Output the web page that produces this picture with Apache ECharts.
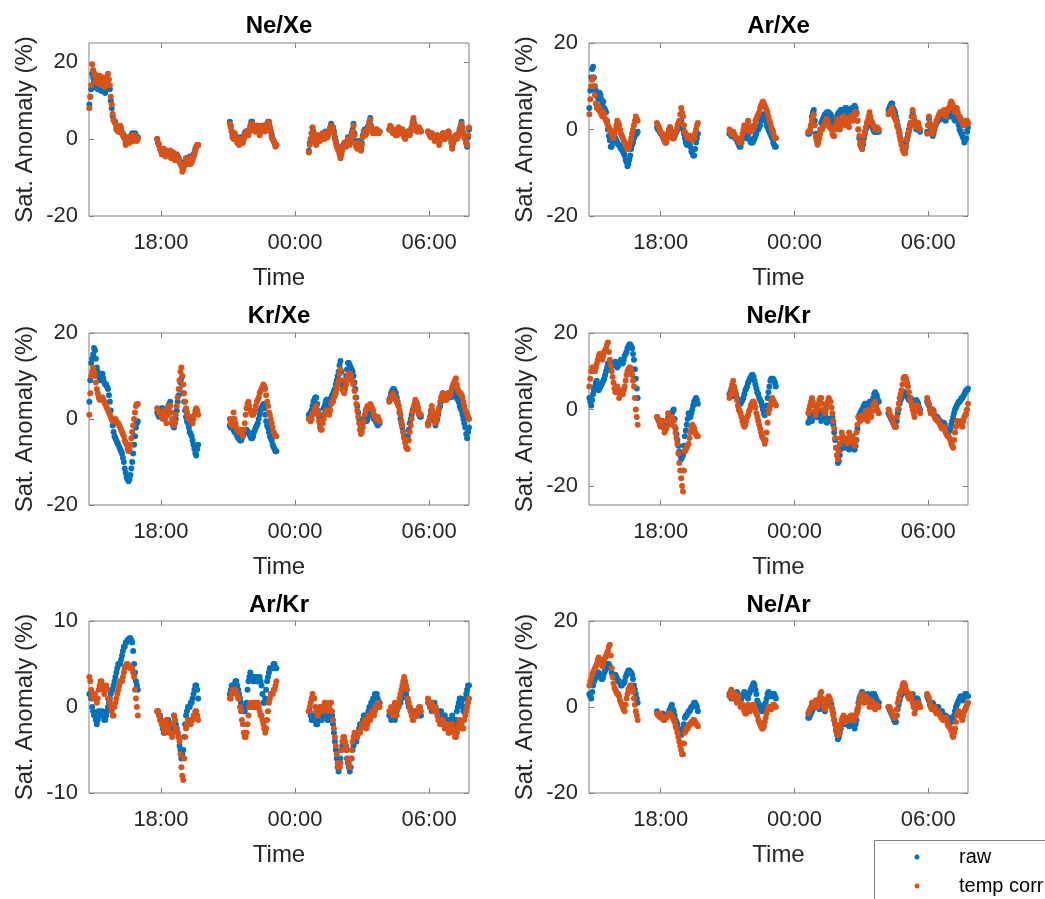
<!DOCTYPE html>
<html>
<head>
<meta charset="utf-8">
<title>Sat. Anomaly</title>
<script src="https://cdn.jsdelivr.net/npm/echarts@6.0.0/dist/echarts.min.js"></script>
<style>
  html, body { margin: 0; padding: 0; background: #fff; }
  #chart { width: 1045px; height: 899px; }
</style>
</head>
<body>
<div id="chart"></div>
<script>
// sample times, one every 2.5 min, in six measurement blocks
const times = [
  "14:48:00","14:50:30","14:53:00","14:55:30","14:58:00","15:00:30","15:03:00","15:05:30","15:08:00","15:10:30","15:13:00","15:15:30","15:18:00","15:20:30","15:23:00","15:25:30","15:28:00","15:30:30","15:33:00","15:35:30","15:38:00","15:40:30","15:43:00","15:45:30","15:48:00","15:50:30","15:53:00","15:55:30","15:58:00","16:00:30","16:03:00","16:05:30","16:08:00","16:10:30","16:13:00","16:15:30","16:18:00","16:20:30","16:23:00","16:25:30","16:28:00","16:30:30","16:33:00","16:35:30","16:38:00","16:40:30","16:43:00","16:45:30","16:48:00","16:50:30","16:53:00","16:55:30","16:58:00",
  "17:50:00","17:52:30","17:55:00","17:57:30","18:00:00","18:02:30","18:05:00","18:07:30","18:10:00","18:12:30","18:15:00","18:17:30","18:20:00","18:22:30","18:25:00","18:27:30","18:30:00","18:32:30","18:35:00","18:37:30","18:40:00","18:42:30","18:45:00","18:47:30","18:50:00","18:52:30","18:55:00","18:57:30","19:00:00","19:02:30","19:05:00","19:07:30","19:10:00","19:12:30","19:15:00","19:17:30","19:20:00","19:22:30","19:25:00","19:27:30","19:30:00","19:32:30","19:35:00","19:37:30","19:40:00",
  "21:05:00","21:07:30","21:10:00","21:12:30","21:15:00","21:17:30","21:20:00","21:22:30","21:25:00","21:27:30","21:30:00","21:32:30","21:35:00","21:37:30","21:40:00","21:42:30","21:45:00","21:47:30","21:50:00","21:52:30","21:55:00","21:57:30","22:00:00","22:02:30","22:05:00","22:07:30","22:10:00","22:12:30","22:15:00","22:17:30","22:20:00","22:22:30","22:25:00","22:27:30","22:30:00","22:32:30","22:35:00","22:37:30","22:40:00","22:42:30","22:45:00","22:47:30","22:50:00","22:52:30","22:55:00","22:57:30","23:00:00","23:02:30","23:05:00","23:07:30","23:10:00",
  "00:37:00","00:39:30","00:42:00","00:44:30","00:47:00","00:49:30","00:52:00","00:54:30","00:57:00","00:59:30","01:02:00","01:04:30","01:07:00","01:09:30","01:12:00","01:14:30","01:17:00","01:19:30","01:22:00","01:24:30","01:27:00","01:29:30","01:32:00","01:34:30","01:37:00","01:39:30","01:42:00","01:44:30","01:47:00","01:49:30","01:52:00","01:54:30","01:57:00","01:59:30","02:02:00","02:04:30","02:07:00","02:09:30","02:12:00","02:14:30","02:17:00","02:19:30","02:22:00","02:24:30","02:27:00","02:29:30","02:32:00","02:34:30","02:37:00","02:39:30","02:42:00","02:44:30","02:47:00","02:49:30","02:52:00","02:54:30","02:57:00","02:59:30","03:02:00","03:04:30","03:07:00","03:09:30","03:12:00","03:14:30","03:17:00","03:19:30","03:22:00","03:24:30","03:27:00","03:29:30","03:32:00","03:34:30","03:37:00","03:39:30","03:42:00","03:44:30","03:47:00",
  "04:13:00","04:15:30","04:18:00","04:20:30","04:23:00","04:25:30","04:28:00","04:30:30","04:33:00","04:35:30","04:38:00","04:40:30","04:43:00","04:45:30","04:48:00","04:50:30","04:53:00","04:55:30","04:58:00","05:00:30","05:03:00","05:05:30","05:08:00","05:10:30","05:13:00","05:15:30","05:18:00","05:20:30","05:23:00","05:25:30","05:28:00","05:30:30","05:33:00","05:35:30","05:38:00",
  "05:57:00","05:59:30","06:02:00","06:04:30","06:07:00","06:09:30","06:12:00","06:14:30","06:17:00","06:19:30","06:22:00","06:24:30","06:27:00","06:29:30","06:32:00","06:34:30","06:37:00","06:39:30","06:42:00","06:44:30","06:47:00","06:49:30","06:52:00","06:54:30","06:57:00","06:59:30","07:02:00","07:04:30","07:07:00","07:09:30","07:12:00","07:14:30","07:17:00","07:19:30","07:22:00","07:24:30","07:27:00","07:29:30","07:32:00","07:34:30","07:37:00","07:39:30","07:42:00","07:44:30","07:47:00"
];

// Ne/Xe
const neXeRaw = [
  9, 11, 13, 17, 16, 15, 15, 13.5, 14, 13, 13, 14, 13.5, 12.5, 13, 13.5, 12.5, 12, 13, 14, 15.5, 14, 13, 10, 8, 6, 5, 4.5, 4.5, 3, 3, 2, 2, 3, 2.5, 1.5, 1.5, 1, 0.5, -1, -0.5, 0, 0.5, -0.5, 0, 1, 1.5, 0, 0.5, 1.5, 1, 0, 0.5,
  0, -1, -1.5, -2.5, -3, -3.5, -3, -2.5, -3, -4, -3.5, -3, -3.5, -3.5, -3, -4.5, -4, -3.5, -4, -5, -4.5, -4, -4.5, -5, -5.5, -6, -6.5, -7.5, -7.5, -6.5, -6, -5, -5, -5.5, -5, -4.5, -5.5, -5.5, -5, -4, -3.5, -2.5, -2, -1.5, -1.5,
  4.5, 3.5, 2, 1, 0.5, 1.5, 1, 0.5, -0.5, 0, -1, 0, 0.5, -0.5, -0.5, 0.5, 1.5, 2, 2, 1.5, 1.5, 2.5, 3.5, 4.5, 4.5, 3, 3.5, 2.5, 2.5, 3.5, 3.5, 2.5, 1.5, 2.5, 3, 3.5, 3.5, 3, 2.5, 3.5, 4, 4.5, 4.5, 3, 2, 1, 0, -0.5, -1, -1.5, -1.5,
  -3, -1, 0, 1.5, 3, 2, 0.5, -0.5, -1, 0, 1, 0.5, 0, 0.5, 1, 1.5, 1, 0.5, 2, 1.5, 1, 1.5, 2, 3, 4, 2.5, 3, 2, 0.5, -0.5, -1.5, -2, -2.5, -3.5, -4.5, -3.5, -2.5, -1.5, -1, -1, -1.5, -0.5, 0.5, 0, -1, 0.5, 1.5, 2.5, 4, 1.5, -0.5, -1.5, -2, -1, -0.5, -1.5, -2.5, -1, 1, 2, 2.5, 1.5, 2, 3, 3.5, 4.5, 5.5, 3.5, 2.5, 2, 2.5, 2, 2, 2.5, 2, 1.5, 2,
  2.5, 3, 3, 2.5, 2, 2, 2, 1.5, 1, 2, 3, 2, 1.5, 2, 2.5, 2, 1, 0.5, 1, 1.5, 2, 2, 1.5, 2, 3, 4, 5, 4, 3, 2.5, 2, 2.5, 3, 2.5, 2,
  2, 1.5, 1, 1, 1.5, 1, 0.5, 0, 0.5, 0.5, 1, 0, -1, 0, 0.5, 1, 1.5, 0.5, 0, 0.5, 1, 1.5, 2, 1, 0.5, -0.5, -2, -1, 0, 0.5, 1, 0.5, 1, 1.5, 2.5, 3.5, 4.5, 3, 1.5, 0.5, 0, -1, -2, 0.5, 2.5
];
const neXeCorr = [
  8, 11, 14, 19.5, 18, 16.5, 17, 15, 16, 14.5, 15, 16.5, 16, 14, 15, 16, 14, 13.5, 15, 16, 17, 15.5, 14, 11, 9, 6.5, 5, 4.5, 4, 2.5, 3, 2, 2, 3.5, 3, 1.5, 1, 0.5, 0, -1.5, -1, 0.5, 0, -1, -0.5, 0.5, 1, -0.5, 0, 1, 0.5, -0.5, 0,
  0, -1, -1.5, -2.5, -3, -4, -3.5, -2.5, -3, -4.5, -4, -3, -3.5, -4, -3, -5, -4.5, -3.5, -4, -5.5, -5, -4, -4.5, -5.5, -6, -6.5, -7, -8.5, -8, -7, -6.5, -5, -5.5, -6.5, -6, -5, -6.5, -6, -5.5, -4.5, -4, -3, -2, -1.5, -1.5,
  4, 3, 2, 0.5, 0, 1.5, 1, 0, -1, -0.5, -1.5, -0.5, 0, -1, -1, 0, 1, 1.5, 2, 1, 1, 2, 3, 4, 4, 2.5, 3, 2, 2, 3.5, 3, 2, 1, 2, 2.5, 3.5, 3, 2.5, 2, 3, 3.5, 4.5, 4, 3, 2, 0.5, 0, -0.5, -1, -2, -1.5,
  -3.5, -1.5, 0, 1.5, 3, 1.5, 0, -1, -1.5, 0, 1, 0, -0.5, 0, 0.5, 1.5, 1, 0, 1.5, 1, 0.5, 1, 2, 3, 3.5, 2, 3, 1.5, 0, -1, -2, -2.5, -3, -4, -5, -4, -3, -2, -1, -1.5, -2, -1, 0, -0.5, -1.5, 0, 1, 2, 3.5, 1, -1, -2, -2.5, -1.5, -1, -2, -3, -1.5, 0.5, 1.5, 2, 1, 1.5, 2.5, 3, 4, 5, 3, 2, 1.5, 2.5, 2, 1.5, 2.5, 2, 1.5, 2,
  2.5, 3.5, 3, 2, 1.5, 2.5, 2, 1, 1, 2, 3, 2, 1.5, 2, 2.5, 1.5, 0.5, 0, 1, 1.5, 2, 1.5, 1, 2, 3, 4.5, 5.5, 4, 3, 2.5, 2, 2.5, 3, 2.5, 2,
  2, 1.5, 1, 0.5, 1.5, 1, 0.5, -0.5, 0, 0.5, 1, -0.5, -1.5, -0.5, 0.5, 1, 1.5, 0.5, 0, 0.5, 1, 1.5, 2, 1, 0.5, -1, -2.5, -1, 0, 0.5, 1, 0, 0.5, 1.5, 2.5, 3, 4, 2.5, 1.5, 0.5, 0, -1, -1.5, 1, 3
];

// Ar/Xe
const arXeRaw = [
  5, 9, 12, 14, 14.5, 12, 10, 9, 8, 7.5, 7, 8.5, 8, 7, 6, 6.5, 5, 4.5, 4, 2, 0, -1.5, -2.5, -4, -4, -3, -3, -2.5, -2, -2.5, -3, -3.5, -3.5, -4, -4.5, -4, -5, -5.5, -6, -7, -7.5, -8.5, -8, -7, -6, -4.5, -3.5, -3, -2, -1.5, -1, -1, -0.5,
  0.5, 0, 0, -0.5, -1, -1, -1.5, -2, -2.5, -3, -3, -2, -1, 0, 0.5, -0.5, -1.5, -2, -2, -1.5, -1, -0.5, 0, 0.5, 1, 1.5, 2, 1, 0, -1, -2, -3, -3.5, -3.5, -3, -3.5, -4, -5, -5.5, -6, -6, -4.5, -3, -2, -1,
  -1, -1, -1.5, -1.5, -1, -1.5, -2, -2, -2.5, -3, -3.5, -4, -4, -3, -2, -1.5, -1, -1.5, -2, -2, -1.5, -2, -2.5, -3, -3, -3, -2.5, -2, -1.5, -1, 0, 0, 0.5, 1, 2, 3, 3.5, 3, 2.5, 2, 1, 0.5, 0, -0.5, -1, -1.5, -2, -3, -3.5, -4, -4,
  -1, -1, -0.5, 1, 3, 4, 4.5, 2, -1, -2, -3, -2, -1, 0, 1.5, 2, 2.5, 3, 3.5, 3.5, 4, 4, 4, 3.5, 3.5, 3, 2, 1, 0, 1, 2, 3, 3.5, 4, 4, 4.5, 4.5, 4, 4, 4.5, 5, 5, 4.5, 3.5, 3, 4, 4.5, 5, 5, 5, 5.5, 5, 4, 2, 0, -2, -3.5, -4, -4.5, -3.5, -2, -1, 0, 0.5, 1, 1.5, 2, 1.5, 1, 0.5, 0, -0.5, -0.5, -0.5, -0.5, 0, -0.5,
  4.5, 5, 5.5, 6, 6, 5, 4.5, 4, 3, 2, 1, 0, -1, -2, -3, -3.5, -4, -4.5, -4.5, -3, -2, -1, 0, 1, 1.5, 3, 4, 3, 2, 1, 0, 0.5, 1, 0, -0.5,
  -0.5, 1, 2.5, 1, 0, -1, -1.5, -1, 0, 1, 1.5, 2, 2, 2.5, 3, 2.5, 2.5, 3, 3, 2.5, 2, 3, 3.5, 3, 3, 3.5, 4, 3.5, 3, 2.5, 2, 2.5, 3, 2, 1, 0, -0.5, -1, -1.5, -2, -3, -2.5, -2, -0.5, 0.5
];
const arXeCorr = [
  3.5, 7, 10, 11.5, 12, 10, 8, 6, 5, 5.5, 4.5, 5, 4, 3.5, 3, 4, 3.5, 2.5, 2, 1.5, 1, 0.5, 0, -0.5, -1, -1.5, -2, -1, 0, 1, 2, 1.5, 1, 0, -1, -1.5, -2, -2.5, -3, -3.5, -4, -4.5, -4.5, -4, -3, -2, -1, 0, 1, 2, 3, 2.5, 2,
  1.5, 1, 0.5, 0, -0.5, -1, -1, -2, -2.5, -3, -3, -2, -1, 0, 0.5, -0.5, -1.5, -2, -2, -1, -0.5, 0, 1, 1.5, 2, 3.5, 5, 4, 3, 1, -0.5, -1, -1.5, -2, -2, -1.5, -1.5, -2, -2.5, -2, -2, -1, 0, 1, 1.5,
  0, -0.5, -1, -1, -0.5, -1, -1.5, -2, -2, -2, -2.5, -3, -3, -2, -1, 0, 1, 0.5, 0, 1, 2, 1, -0.5, -0.5, 0, 0, 0.5, 1, 2, 2.5, 3, 3.5, 4, 5, 5.5, 6, 6.5, 6, 5.5, 5, 4.5, 4, 3, 2, 1.5, 0.5, 0, -0.5, -1.5, -2, -2,
  -0.5, -0.5, 0, 1, 2, 3, 3.5, 1, -1.5, -2.5, -3.5, -3, -2, -1, 0, 0, 0.5, 1, 1.5, 2, 2.5, 2, 1, 0.5, 0.5, 0, -1, -1.5, -1.5, 0, 1, 2, 2.5, 1, 0, 1, 2, 2.5, 3, 2, 1, 2, 2.5, 1.5, 0.5, 2, 3, 2.5, 2, 3, 4, 4, 3.5, 2, 0, -1.5, -3, -4, -4.5, -3, -1.5, -0.5, 0.5, 1.5, 2, 3, 4, 3, 2, 1.5, 1, 0.5, 0, 0, 0.5, 0, 0,
  3.5, 4, 4, 4.5, 5, 4, 3, 2.5, 2, 1, 0.5, -0.5, -1.5, -2.5, -3.5, -4.5, -5, -5.5, -5.5, -4, -2.5, -1.5, -0.5, 0.5, 1.5, 3, 4.5, 3, 2, 1, 0.5, 1, 1.5, 0.5, 0,
  -1, 1, 3, 1.5, 0.5, -0.5, -1, 0, 0.5, 1, 2, 2.5, 3, 3.5, 4, 4, 3.5, 4, 4.5, 4, 3, 4, 4.5, 5, 5, 6, 6.5, 6, 5.5, 4.5, 4, 4.5, 5, 4, 3, 3, 2.5, 2, 1.5, 1, 1, 1.5, 2, 2, 1.5
];

// Kr/Xe
const krXeRaw = [
  4, 9, 13, 14, 15, 16.5, 16, 14, 12, 11, 10, 9.5, 9, 10, 10.5, 9.5, 8.5, 8, 8, 7.5, 7, 5.5, 4, 2, 0, -1.5, -3, -4, -4.5, -5, -5.5, -6, -6.5, -7, -7.5, -8, -9, -10, -11.5, -12.5, -13.5, -14, -14.5, -14, -13, -11.5, -10, -8, -6, -4, -2, -1, -0.5,
  1.5, 1, 0.5, 1, 2, 2.5, 2.5, 1, 0, 0.5, 1, 2, 3, 3.5, 4, 1.5, -1, -1.5, -2, -1, 0, 2, 4, 5.5, 7, 8.5, 9.5, 8, 6, 4, 2, 0.5, -0.5, -1, -2, -3, -3.5, -4, -5, -6, -7, -8, -8.5, -7, -6,
  -1.5, -2, -2, -2, -2.5, -3, -3, -3.5, -4, -4.5, -4.5, -5, -5, -4.5, -4, -3.5, -3, -2.5, -2.5, -3, -3, -3.5, -4, -4.5, -4.5, -4, -3, -2.5, -2, -1.5, -1, 0, 1, 2, 2.5, 3, 3.5, 2.5, 1, -0.5, -1.5, -2, -3, -4, -4.5, -5, -6, -6.5, -7, -7.5, -7.5,
  1, 1, 1.5, 2, 3, 4, 4.5, 5, 5, 3.5, 2, 0.5, -1, -0.5, 0, 1, 2.5, 3, 4, 4.5, 4.5, 4, 3, 4, 5, 5.5, 6, 6.5, 7, 8, 9, 10, 11, 12.5, 13.5, 11, 8, 7.5, 7, 8.5, 10, 11.5, 13, 13, 12.5, 12, 11.5, 11, 10, 8.5, 7, 5, 3, 1.5, 0, -1, -2, -1.5, -1, 0, 0.5, 0, -0.5, 0, 1, 1.5, 2, 1.5, 1, 0.5, 0, 0, -0.5, -1, -1.5, -1, -1,
  4.5, 5, 6, 6.5, 7, 7, 6.5, 6, 5, 4, 3, 1.5, 0, -1, -2, -3, -4, -4.5, -5, -4.5, -4, -2.5, -1, 0, 1, 2, 2.5, 3, 4, 3.5, 3, 2, 1, 0.5, 0.5,
  -1, -0.5, 0, 1, 2, 1.5, 1, -0.5, -1.5, -0.5, 0, 1, 2.5, 3, 4, 5, 6, 5, 4.5, 5, 5, 5.5, 6, 5.5, 5, 6, 7, 6.5, 6, 5.5, 5, 5, 4.5, 4, 3, 2.5, 2, 1, 0, -1, -2, -3.5, -4.5, -3, -2
];
const krXeCorr = [
  1, 6, 10, 11, 12, 11, 10, 8.5, 7, 6, 5, 4.5, 4.5, 5, 5, 4.5, 4, 3.5, 3, 2.5, 2, 1.5, 1, 0.5, 0, -0.5, -0.5, -0.5, 0, -0.5, -1, -1, -1.5, -2, -2.5, -3, -3.5, -4, -5, -5.5, -6, -7, -7.5, -7, -6, -4.5, -3, -1.5, 0, 1.5, 3, 3.5, 3.5,
  2.5, 2, 1.5, 1.5, 1, 0.5, 0, 1, 2, 0.5, -1, 1, 2.5, 3, 3, 1.5, 0, -1, -1.5, -0.5, 1, 3, 5, 7, 9, 11, 12, 10, 8, 6, 4, 2.5, 1.5, 0.5, 0, 0, 0.5, -0.5, -1, 0, 1, 2, 2.5, 2, 1,
  0, -1, -1.5, 0, 1.5, 0, -1, -2, -2.5, -3, -3, -3, -2.5, -3.5, -4, -2.5, -1, 1, 2.5, 3.5, 4, 3, 2, 1.5, 1, 1, 1.5, 2, 3, 4, 4.5, 5, 6, 6.5, 7, 7.5, 8, 7.5, 7, 5.5, 4, 3, 1.5, 1, 0, -1, -2, -3, -3.5, -4, -4,
  0, 0, -0.5, 0, 1, 1.5, 2, 2.5, 3, 2, 1, -0.5, -2, -2.5, -2.5, -1, 0, 1, 1.5, 2, 2, 1.5, 1, 2, 3.5, 4, 4, 5, 5.5, 6, 7, 8, 9, 10.5, 11.5, 9, 7, 6.5, 6, 7, 8, 9, 10, 10.5, 10.5, 10, 9, 8.5, 8, 6.5, 5, 3.5, 2, 0.5, -1, -2.5, -3.5, -3, -2, -0.5, 1, 2, 2.5, 3, 3, 3, 3.5, 3, 2.5, 2, 1, 0.5, 0, 0, 0.5, 0, -0.5,
  4, 4.5, 5, 5.5, 6, 5.5, 5, 4.5, 4, 3.5, 3, 2, 1, -0.5, -1.5, -3, -4.5, -5.5, -6.5, -7, -7, -5, -3, -1.5, 0, 1.5, 2.5, 3.5, 4.5, 4, 3.5, 2.5, 1.5, 1, 1,
  -1.5, -0.5, 0.5, 2, 3, 2, 1, 0, -1, -0.5, 0.5, 1.5, 2.5, 4, 5, 5.5, 6, 5.5, 5, 4.5, 4.5, 5, 6, 6, 5.5, 6.5, 7.5, 8, 8.5, 9, 9.5, 8, 7, 6.5, 6, 6, 5.5, 5, 4, 3, 2, 1.5, 1, 0.5, 0
];

// Ne/Kr
const neKrRaw = [
  3, 2, 1, 2.5, 4, 5, 6, 7, 7.5, 6, 5, 5.5, 6, 6.5, 7, 7.5, 8, 9, 10, 11, 12, 11.5, 11, 11.5, 12, 12, 11.5, 12, 12.5, 12, 11, 11.5, 12, 12.5, 13, 12.5, 12, 13, 14, 14.5, 15, 16, 16.5, 17, 17, 16.5, 16, 14.5, 13, 10.5, 8, 5.5, 3,
  -2, -2.5, -3, -3.5, -4, -3.5, -3, -4, -5, -4.5, -4, -3, -2, -2.5, -3.5, -2, -1, -0.5, 0, -2.5, -5, -6.5, -8, -9.5, -11, -12, -13, -12.5, -12, -9.5, -7, -5.5, -4, -2.5, -1, -1.5, -2, -1, 0, 1, 2, 2.5, 3, 2.5, 1.5,
  4, 4.5, 5, 4, 3.5, 4, 4.5, 4, 3, 2.5, 2, 2, 1.5, 2, 2.5, 3, 4, 5, 5.5, 6, 7, 7.5, 8, 8.5, 9, 9, 8.5, 7.5, 6.5, 5.5, 4.5, 4, 3, 2.5, 2, 1, 0, -1, -1.5, -0.5, 1, 3, 4.5, 6, 7.5, 8, 8, 8, 7.5, 7, 6,
  -3.5, -3, -2, -2.5, -3, -2, -1, -1, -1.5, -2, -2, -1, -0.5, -2, -3, -2.5, -2, -1.5, -1, -2, -3.5, -3, -2.5, -3, -3, -2.5, -2, -4, -6, -8, -10, -12, -14, -13.5, -12, -10.5, -9, -8.5, -8.5, -9, -10, -9.5, -9, -10, -10.5, -10, -9.5, -10, -10, -10.5, -10.5, -9.5, -8, -5, -2, -1.5, -1, -0.5, 0, 0.5, 1, 1.5, 1.5, 1, 1, 1.5, 2, 2, 1.5, 2, 3, 4, 4.5, 4, 3.5, 2.5, 2,
  -1, -1.5, -2, -2.5, -3, -3.5, -4, -4.5, -4.5, -3, -1, 0, 1.5, 2.5, 3, 3.5, 4, 4.5, 4.5, 4, 3.5, 3, 2.5, 3, 3, 2.5, 2, 1.5, 1, 2, 2.5, 2, 1.5, 0.5, 0,
  2, 1.5, 1, 0, -1, -0.5, 0, -0.5, -1.5, -2, -2, -2, -2.5, -3, -3, -3.5, -4, -4, -3.5, -4, -5, -5.5, -6, -6, -5.5, -5, -4, -3, -2, -1, 0, 0.5, 1, 1.5, 2, 2, 2.5, 3, 3, 3.5, 4, 4.5, 5, 5, 5.5
];
const neKrCorr = [
  6, 8, 10, 11, 11, 10.5, 10, 11, 12, 13, 14, 14.5, 14.5, 14, 13, 14, 15, 15.5, 16, 17, 17.5, 15, 13, 11.5, 10, 8.5, 7, 5.5, 4.5, 5, 6, 4.5, 3, 4, 5, 4.5, 4, 5, 6, 7.5, 9, 10, 10.5, 11, 11, 10, 9, 7.5, 6, 3, 0, -2, -4,
  -2, -2.5, -3, -4, -4.5, -4, -3, -4.5, -6, -5.5, -5, -3, -1, -2.5, -4, -3, -2, -2.5, -3, -4.5, -6, -7.5, -9, -11.5, -14, -16, -18, -20, -21.5, -16, -11, -10.5, -10, -9.5, -9, -7.5, -6, -5, -4, -4.5, -5, -6, -6.5, -7, -7,
  3, 4, 5.5, 6.5, 7.5, 6, 5, 4, 2.5, 1, 0, -0.5, -1, -2, -3, -4, -4.5, -4, -3, -2, -1.5, -0.5, 0, 1, 1.5, 2, 2, 1.5, 0.5, -1, -2, -3, -4, -5, -6, -7, -7.5, -8, -9, -8, -6, -3.5, -1, 0, 1, 2, 3, 2.5, 2, 1.5, 1,
  -1, 0, 1, 2, 3, 2, 1, -0.5, -1.5, -0.5, 0.5, 1.5, 2.5, 3, 3, 1.5, 0, -0.5, -1, 0, 1, 2, 3, 2.5, 2, 0.5, -1, -3, -5, -7.5, -10, -12, -13, -11, -9, -7.5, -6, -7, -7.5, -8, -8, -8.5, -9, -7.5, -6, -7, -8.5, -8, -7, -8, -9.5, -8, -6, -4, -2, -2.5, -3, -2, -1.5, -2, -2.5, -1.5, -0.5, -2, -3, -1.5, 0, -1, -2, -0.5, 1, 1.5, 2, 1, 0, -0.5, -1,
  0, -0.5, -1.5, -2, -2.5, -3.5, -4, -4.5, -4.5, -2, 0, 1.5, 3, 4, 5, 6.5, 8, 8.5, 8.5, 8, 7, 6, 4.5, 3, 2, 1, 0, -1, -2, -0.5, 1, 1, 0.5, 0, -1,
  3, 2, 1.5, 0, -1, -0.5, 0, -1, -2, -2.5, -2.5, -3, -3, -3.5, -4, -4.5, -5, -5, -4.5, -5, -6, -6.5, -7, -7, -7.5, -8, -9, -9.5, -10, -8, -6, -4.5, -3, -3.5, -4, -3.5, -3, -4, -4.5, -3, -2, -1.5, -1, 0, 1.5
];

// Ar/Kr
const arKrRaw = [
  1.5, 1.5, 1, 0, -0.5, -1, -1, -1.5, -2, -1.5, -0.5, -0.5, -1, -1, -0.5, -1, -1.5, -1.5, -1, -0.5, 0, 0.5, 1, 1.5, 2, 2, 2.5, 3, 3.5, 4, 4.5, 5, 5, 5, 5.5, 6, 6.5, 7, 7, 7.5, 7.5, 7.8, 7.8, 8, 8, 7.8, 7.5, 6.5, 5, 4, 3, 2.5, 2,
  -0.5, -0.5, -1, -1, -1.5, -2, -2.5, -3, -3, -2.5, -2, -1.5, -1.5, -2, -2.5, -3, -3, -2, -1, -1.5, -2, -2.5, -3, -3.5, -4.5, -5, -6, -5.5, -5, -3.5, -2, -1, -0.5, 0, 0, 0, 0.5, 0.5, 1, 1.5, 2, 2.5, 2.5, 2, 1,
  1.5, 2, 2.5, 2.5, 2, 2.5, 3, 3, 2.5, 2, 1.5, 1, 0.5, 0, 0, -0.5, -0.5, 0, 0.5, 2, 3, 3.5, 4, 3.5, 3.5, 3, 3, 3.5, 3.5, 3, 3, 3.5, 3.5, 3, 2.5, 1.5, 0.5, 0.5, 1, 2, 3, 3.5, 4, 4.5, 4.5, 4.5, 4.5, 5, 5, 4.5, 4.5,
  -0.5, -0.5, -1, -1.5, -1.5, -1, -1, -1.5, -2, -2, -1.5, -1, -1, -1.5, -1.5, -1, -1, -0.5, -0.5, -1, -1.5, -1.5, -1, -0.5, -0.5, -1, -2, -3, -4, -5, -6, -7, -7.5, -7, -6, -5, -4.5, -4, -4, -4.5, -5, -6, -6.5, -7, -7.5, -7, -6, -5, -4.5, -4, -4, -4, -3.5, -3, -2.5, -2, -2, -2, -1.5, -1, -1, -1, -1.5, -1, -0.5, 0, 0, 0.5, 0.5, 1, 1, 1.5, 1.5, 1.5, 1, 0.5, 0.5,
  -1, -1, -1.5, -1, -1, -1, -1.5, -1, -0.5, 0, 0, 0.5, 0.5, 1, 1.5, 2, 2, 2, 1.5, 1, 0.5, 0, 0, -0.5, -0.5, -1, -1, -0.5, -0.5, -1, -1, -0.5, -0.5, -1, -1,
  0.5, 0.5, 0, 0, -0.5, 0, 0.5, 0.5, 0, -0.5, -0.5, -1, -1, -0.5, -0.5, -1, -1.5, -1, -1, -1.5, -1.5, -2, -2, -1.5, -1.5, -1.5, -1, -1.5, -2, -2, -1.5, -0.5, 0, 0.5, 1, 1, 0.5, 0, -0.5, 0, 1, 1.5, 2, 2.5, 2.5
];
const arKrCorr = [
  3.5, 3, 2, 1.5, 1, 1.5, 1.5, 1, 0.5, 1, 2, 2.5, 3, 3, 2.5, 2, 1.5, 2, 2.5, 2, 1, 1, 0.5, 0, -0.5, -1, -1, 0, 0.5, 1, 1.5, 2, 2.5, 3, 3, 3, 3.5, 4, 4.5, 4.8, 5, 5, 4.8, 4.7, 4.5, 4.5, 4.5, 4, 3.5, 2, 1, 0, -1,
  -0.5, -0.5, -1, -1.5, -1.5, -2, -2, -2.5, -3, -2, -1.5, -2, -2.5, -3, -3, -3, -3.5, -2, -1, -1.5, -2.5, -3, -3, -3.5, -4, -5.5, -7, -8, -8.5, -6, -3.5, -2.5, -2, -1.5, -1.5, -2, -2, -1.5, -1.5, -1, -1, -0.5, -0.5, -1, -1.5,
  1, 1, 1.5, 2, 2, 2, 2, 1.5, 1.5, 1, 1, 0, -0.5, -1.5, -2, -3, -3.5, -3.5, -3, -2, -1, 0, 0.5, 0, 0, 0.5, 0.5, 0, 0, 0.5, 0.5, 0, -0.5, -1, -1, -1.5, -2, -2.5, -3, -2.5, -1.5, -0.5, 0.5, 1, 1.5, 1.5, 1.5, 2, 2, 2.5, 3,
  -0.5, 0, 0.5, 1, 1.5, 1, 1, 0, -0.5, -1, -1, -0.5, 0, 0, -0.5, 0, 0, 0.5, 0.5, 0, -0.5, 0, 0, 0.5, 0.5, -0.5, -1.5, -2.5, -3.5, -4.5, -5.5, -6.5, -7, -7, -6.5, -5, -4, -3.5, -3.5, -4, -4.5, -5, -6, -6.5, -7, -6, -5, -4, -3.5, -3, -3, -3.5, -3.5, -3, -3, -3, -2.5, -2, -2, -2, -1.5, -2, -2.5, -2, -1, -1, -1.5, -1, -0.5, -0.5, -1, -0.5, 0, 0, 0.5, 0, 0,
  -0.5, -0.5, 0, -0.5, -1, 0, 0.5, -0.5, -1, 0, 0.5, 1, 1.5, 2, 2.5, 3, 3.5, 3, 2.5, 2, 1, 0.5, 0, -0.5, -1, -1.5, -1.5, -1, -0.5, -1, -1, -0.5, 0, 0, -0.5,
  1, 0.5, 0, 0.5, 0.5, 0, -0.5, -0.5, 0, -0.5, -1, -1.5, -1.5, -2, -2, -1.5, -1.5, -2, -2.5, -2, -2, -2.5, -3, -3, -2.5, -2, -2, -2.5, -3, -3.5, -3.5, -3, -2.5, -2, -1.5, -2, -2, -2.5, -2.5, -1.5, -1, -0.5, 0, 0.5, 1
];

// Ne/Ar
const neArRaw = [
  3, 2.5, 2, 3.5, 5, 6, 6.5, 7, 7.5, 8, 8, 7.5, 7, 6.5, 6.5, 7, 8, 8.5, 9, 9.5, 10, 10, 9.5, 9, 8, 7.5, 7, 7, 7.5, 7, 6.5, 6, 6, 5.5, 5, 5, 5.5, 5.5, 6, 7, 7.5, 8, 8.5, 8.5, 8, 8, 7.5, 6.5, 5, 4, 3, 2, 1,
  -1, -1.5, -2, -2, -2.5, -2, -1.5, -2, -3, -2.5, -2, -2, -1.5, -1, -0.5, 0, 0.5, -0.5, -1, -2, -3, -3.5, -4, -5, -5.5, -6, -6.5, -6, -5, -4, -2.5, -2, -2, -1.5, -1, -1, -0.5, 0, 0, 0.5, 1, 1, 0.5, 0, -1,
  3, 2.5, 2, 2.5, 3, 2.5, 2, 3, 3.5, 3, 2, 1.5, 1.5, 2, 2.5, 3, 3.5, 3, 3, 2.5, 2, 3, 3.5, 4, 4.5, 5, 5.5, 5, 4, 3, 1.5, 1, 0.5, 0, -0.5, -1, -1, -0.5, 0.5, 1, 2, 3, 3.5, 3, 3, 2.5, 2.5, 3, 3, 2.5, 2,
  -2.5, -2.5, -2, -1.5, -1, -0.5, 0, 0.5, 1, 1, 0.5, 0, -0.5, 0, 1, 0.5, 0, -0.5, -1, 0, 0.5, 1, 1.5, 1.5, 1, 0.5, -0.5, -1.5, -3, -4, -5.5, -6.5, -7.5, -7, -6, -5, -4, -3.5, -3, -3.5, -4, -4, -3.5, -4, -4.5, -4, -3, -3.5, -4, -4.5, -5, -4, -3, -1, 1, 2, 2.5, 3, 3.5, 3, 2.5, 2, 2, 2.5, 3, 2.5, 2, 2, 2.5, 3, 3, 3, 2.5, 2, 1.5, 1, 1,
  0, -0.5, -1, -1.5, -2, -2.5, -3, -3.5, -3.5, -2, -0.5, 0.5, 1.5, 2.5, 3, 3.5, 3.5, 4, 4, 3.5, 3, 2.5, 2.5, 2, 2, 2.5, 3, 2, 1, 1.5, 2, 2, 1.5, 0.5, 0,
  2.5, 2, 1.5, 0.5, 0, 0.5, 1, 0.5, 0, -0.5, -0.5, 0, 0, -1, -1.5, -1, -1, -2, -2.5, -2, -2, -2.5, -3, -2.5, -2.5, -3, -3.5, -3, -3, -2, -1, 0, 0.5, 1, 1.5, 2, 2.5, 2, 1.5, 2, 2.5, 3, 3, 2.5, 2.5
];
const neArCorr = [
  5, 6, 6.5, 7.5, 8, 8.5, 9, 9.5, 10, 11, 11.5, 11, 10.5, 10, 9.5, 10, 11, 11.5, 12, 12.5, 13, 14, 14.5, 12, 9, 7, 5.5, 4.5, 4, 3.5, 3, 3, 2.5, 1.5, 1, 0.5, 0, -0.5, -1, 0.5, 2, 3, 4, 4.5, 5, 5, 4.5, 3.5, 2, 0.5, -1, -2, -3,
  -1.5, -2, -2, -1.5, -2, -2.5, -2.5, -3, -3, -2.5, -2.5, -2, -2, -1.5, -1.5, -2, -2, -2.5, -3, -3.5, -4.5, -5, -6, -7, -8, -9, -10, -11, -11, -8.5, -6, -5.5, -5, -5, -4.5, -4, -4, -3.5, -3.5, -3, -3, -3.5, -4, -4, -4.5,
  2.5, 3.5, 4, 3, 2, 2.5, 3, 2, 1, 2, 2.5, 1, 0, 0, 0.5, 0, -1, -1.5, -1.5, -0.5, 0.5, 0, -1, -0.5, 0, 0.5, 0.5, 0, -1, -1.5, -2, -3, -3.5, -4, -4.5, -5, -5, -4.5, -3.5, -2.5, -1.5, -0.5, 0, 0, -0.5, -0.5, 0, 0.5, 0.5, 0, 0,
  -1.5, -1, -0.5, 0, 1, 0.5, 0, 1, 1.5, 0.5, 0, 1, 2, 3, 3.5, 2, 1, 0, -0.5, 0, 1, 2, 2.5, 2, 1.5, 0, -1, -2, -3, -4, -5, -6, -6.5, -6, -5, -4, -3, -2.5, -2, -3, -3.5, -3, -2.5, -3, -3, -2.5, -2, -2, -2.5, -3, -3, -2, -1.5, -0.5, 0, 1, 2, 2.5, 3, 2, 1, 2, 2.5, 2, 2, 1, 0, 1, 1.5, 1, 1, 0, -0.5, 0, 0.5, 0, 0,
  0, 0, -0.5, -1, -1.5, -2, -2.5, -2.5, -2, -0.5, 1, 2, 3, 3.5, 4, 5, 5.5, 5.5, 5, 4, 3.5, 2.5, 2, 2.5, 3, 2, 1, 0, -1.5, -0.5, 0.5, 1, 1, 0.5, 0,
  3, 2.5, 2, 1, 0, -0.5, -0.5, -0.5, 0, -1, -1.5, -1, -1, -1.5, -2, -2.5, -2.5, -3, -3, -2.5, -2.5, -3, -4, -4.5, -4.5, -5, -5.5, -6.5, -7, -6, -5, -3.5, -2, -1.5, -1, -1.5, -2, -2.5, -3, -2, -1, -0.5, 0, 0.5, 1
];

const titles = ["Ne/Xe", "Ar/Xe", "Kr/Xe", "Ne/Kr", "Ar/Kr", "Ne/Ar"];
const rawSets = [neXeRaw, arXeRaw, krXeRaw, neKrRaw, arKrRaw, neArRaw];
const corrSets = [neXeCorr, arXeCorr, krXeCorr, neKrCorr, arKrCorr, neArCorr];
const yRanges = [[-20, 25], [-20, 20], [-20, 20], [-25, 20], [-10, 10], [-20, 20]];
const yTickSets = [[-20, 0, 20], [-20, 0, 20], [-20, 0, 20], [-20, 0, 20], [-10, 0, 10], [-20, 0, 20]];
const xTicks = [18, 24, 30];
const legendNames = ["raw", "temp corr"];

// box of each subplot: left, top, width, height
const boxes = [
  [89, 43, 380, 173], [589, 43, 379, 173],
  [89, 333, 380, 172], [589, 333, 379, 172],
  [89, 621, 380, 172], [589, 621, 379, 172]
];
const titleTops = [14, 14, 304, 304, 593, 593];

const FONT = "Liberation Sans, Arial, Helvetica, sans-serif";
const TXT = "#262626";
const GRAY = "#808080";
const BLUE = "#0072BD";
const ORANGE = "#D95319";

function toHours(t) {
  const p = t.split(":").map(Number);
  return (p[0] < 12 ? p[0] + 24 : p[0]) + p[1] / 60 + (p[2] || 0) / 3600;
}
function hourLabel(v) {
  const h = Math.round(v) % 24;
  return (h < 10 ? "0" : "") + h + ":00";
}
const xMin = toHours("14:47");
const xMax = toHours("07:47");
const xs = times.map(toHours);

rawSets.concat(corrSets).forEach(function (s, i) {
  if (s.length !== times.length) console.error("length mismatch in set " + i + ": " + s.length + " vs " + times.length);
});

const grid = [], xAxis = [], yAxis = [], title = [], series = [];

boxes.forEach(function (b, i) {
  grid.push({
    left: b[0], top: b[1], width: b[2], height: b[3],
    show: true, borderColor: GRAY, borderWidth: 1, backgroundColor: "transparent",
    containLabel: false, outerBoundsMode: "none"
  });
  title.push({
    text: titles[i], left: b[0] + b[2] / 2, top: titleTops[i], padding: 0,
    textAlign: "center",
    textStyle: { fontSize: 24, fontWeight: "bold", color: "#000", fontFamily: FONT }
  });
});

// bottom and left axes carry the labels
boxes.forEach(function (b, i) {
  xAxis.push({
    type: "value", gridIndex: i, min: xMin, max: xMax, position: "bottom",
    axisLine: { show: false, onZero: false },
    axisTick: { show: true, inside: true, length: 5, customValues: xTicks, lineStyle: { color: GRAY } },
    axisLabel: { customValues: xTicks, formatter: hourLabel, fontSize: 22, color: TXT, margin: 16, fontFamily: FONT },
    splitLine: { show: false },
    name: "Time", nameLocation: "middle", nameGap: 50, nameMoveOverlap: false,
    nameTextStyle: { fontSize: 24, color: TXT, fontFamily: FONT }
  });
  yAxis.push({
    type: "value", gridIndex: i, min: yRanges[i][0], max: yRanges[i][1], position: "left",
    axisLine: { show: false, onZero: false },
    axisTick: { show: true, inside: true, length: 5, customValues: yTickSets[i], lineStyle: { color: GRAY } },
    axisLabel: { customValues: yTickSets[i], fontSize: 22, color: TXT, margin: 11, fontFamily: FONT },
    splitLine: { show: false },
    name: "Sat. Anomaly (%)", nameLocation: "middle", nameGap: 52, nameRotate: 90, nameMoveOverlap: false,
    nameTextStyle: { fontSize: 24, color: TXT, fontFamily: FONT }
  });
});
// mirrored ticks on the top and right edges
boxes.forEach(function (b, i) {
  xAxis.push({
    type: "value", gridIndex: i, min: xMin, max: xMax, position: "top",
    axisLine: { show: false, onZero: false },
    axisTick: { show: true, inside: true, length: 5, customValues: xTicks, lineStyle: { color: GRAY } },
    axisLabel: { show: false }, splitLine: { show: false }
  });
  yAxis.push({
    type: "value", gridIndex: i, min: yRanges[i][0], max: yRanges[i][1], position: "right",
    axisLine: { show: false, onZero: false },
    axisTick: { show: true, inside: true, length: 5, customValues: yTickSets[i], lineStyle: { color: GRAY } },
    axisLabel: { show: false }, splitLine: { show: false }
  });
});

boxes.forEach(function (b, i) {
  series.push({
    type: "scatter", name: legendNames[0], xAxisIndex: i, yAxisIndex: i,
    symbol: "circle", symbolSize: 6, itemStyle: { color: BLUE, opacity: 1 },
    data: xs.map(function (x, k) { return [x, rawSets[i][k]]; })
  });
  series.push({
    type: "scatter", name: legendNames[1], xAxisIndex: i, yAxisIndex: i,
    symbol: "circle", symbolSize: 6, itemStyle: { color: ORANGE, opacity: 1 },
    data: xs.map(function (x, k) { return [x, corrSets[i][k]]; })
  });
});

const option = {
  backgroundColor: "#fff",
  animation: false,
  title: title,
  grid: grid,
  xAxis: xAxis,
  yAxis: yAxis,
  graphic: [{
    type: "rect", z: 0,
    shape: { x: 874.5, y: 840.5, width: 300, height: 200 },
    style: { fill: "#fff", stroke: GRAY, lineWidth: 1 }
  }],
  legend: {
    data: legendNames, orient: "vertical", left: 914.5, top: 847, z: 10,
    padding: 0, itemWidth: 5, itemHeight: 5, itemGap: 9,
    icon: "circle", selectedMode: false,
    textStyle: { fontSize: 20, lineHeight: 20, color: "#000", fontFamily: FONT, padding: [0, 0, 0, 34.5] }
  },
  series: series
};

const chart = echarts.init(document.getElementById("chart"), null, { renderer: "canvas" });
chart.setOption(option);
window.addEventListener("resize", chart.resize);
</script>
</body>
</html>
